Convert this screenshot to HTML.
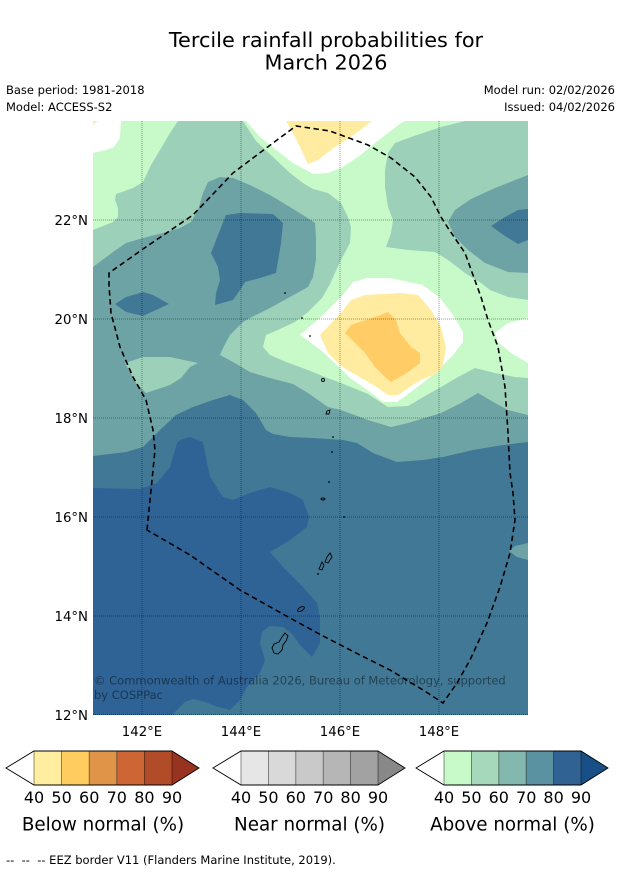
<!DOCTYPE html>
<html>
<head>
<meta charset="utf-8">
<style>
html,body{margin:0;padding:0;background:#fff;}
svg{display:block;}
text{font-family:"DejaVu Sans","Liberation Sans",sans-serif;}
</style>
</head>
<body>
<svg width="621" height="873" viewBox="0 0 621 873" xmlns="http://www.w3.org/2000/svg">
<rect x="0" y="0" width="621" height="873" fill="#fff"/>

<!-- Title -->
<text x="326" y="47" font-size="20.8" text-anchor="middle" fill="#000">Tercile rainfall probabilities for</text>
<text x="326" y="69.5" font-size="20.8" text-anchor="middle" fill="#000">March 2026</text>

<text x="6" y="94" font-size="11.5" fill="#000">Base period: 1981-2018</text>
<text x="6" y="111" font-size="11.5" fill="#000">Model: ACCESS-S2</text>
<text x="615" y="94" font-size="11.5" text-anchor="end" fill="#000">Model run: 02/02/2026</text>
<text x="615" y="111" font-size="11.5" text-anchor="end" fill="#000">Issued: 04/02/2026</text>

<defs>
<clipPath id="mapclip"><rect x="93" y="121" width="435" height="594"/></clipPath>
</defs>

<g clip-path="url(#mapclip)">
<!-- base mid green 50-60 -->
<rect x="93" y="121" width="435" height="594" fill="#9dd0b9"/>

<!-- light green A -->
<polygon fill="#c8fac9" points="93,121 178,121 170,133 160,150 151,165 143,182 133,188 116,194 115,200 118,208 118,217 113,222 93,230"/>
<!-- light green B -->
<polygon fill="#c8fac9" points="243,121 465,121 441,127 411,137 395,143 388,153 385,170 385,187 388,207 393,220 391,233 386,247 408,250 435,252 448,260 465,273 481,283 490,290 508,297 528,300 528,378 515,377 495,373 475,368 458,377 441,387 425,396 408,406 388,407 368,394 341,383 325,377 308,370 286,362 270,355 263,347 266,335 280,329 295,322 308,312 322,298 330,284 335,273 341,260 350,243 351,227 348,217 341,203 328,193 313,189 303,183 290,173 273,157 256,141"/>

<!-- white regions -->
<polygon fill="#ffffff" points="93,121 121,121 120,138 114,147 106,150 93,153"/>
<polygon fill="#ffffff" points="246,121 405,121 401,123 388,133 375,143 358,157 341,168 328,173 313,174 306,170 293,163 280,153 260,137"/>
<polygon fill="#ffffff" points="528,318 508,323 495,333 498,342 511,353 528,363"/>
<polygon fill="#ffffff" points="300,335 323,315 343,295 353,282 367,278 390,278 423,285 440,298 453,315 463,332 463,342 453,355 433,375 420,385 407,395 397,402 383,402 370,392 350,378 340,368 323,352 310,342"/>

<!-- yellow -->
<polygon fill="#ffeca0" points="93,121 98,121 93,125"/>
<polygon fill="#ffeca0" points="286,121 372,121 351,137 335,147 318,160 308,164 306,160 300,147 293,133"/>
<polygon fill="#ffeca0" points="320,335 341,313 351,300 365,295 401,293 418,295 431,310 441,327 446,347 443,365 438,373 421,380 408,388 398,395 388,395 378,388 368,382 351,372 341,366 328,353"/>
<!-- orange -->
<polygon fill="#ffcc66" points="345,333 351,325 375,317 388,312 396,320 400,333 411,347 420,353 420,363 408,372 398,378 391,382 385,377 375,367 365,353 355,343"/>

<!-- 60-70 -->
<polygon fill="#6ea3a6" points="93,267 113,252 126,243 143,238 163,233 180,228 191,222 198,210 203,193 208,182 220,177 233,178 250,185 270,195 290,207 306,217 315,223 316,237 316,260 313,277 308,287 290,297 270,308 250,318 243,322 230,335 223,348 220,355 233,362 250,372 270,378 293,384 308,393 328,407 341,410 368,420 391,427 408,423 441,413 461,403 478,393 495,403 508,410 528,415 528,715 93,715"/>
<polygon fill="#6ea3a6" points="528,175 495,188 471,199 455,210 448,222 455,237 468,250 485,263 508,272 528,273"/>

<!-- mid green patch left -->
<polygon fill="#9dd0b9" points="125,363 143,357 170,357 198,363 190,367 181,378 170,385 146,393 136,383"/>

<!-- 70-80 -->
<polygon fill="#407896" points="93,456 126,452 143,447 160,430 176,415 193,407 213,400 230,395 243,400 256,413 266,430 273,434 290,437 313,438 343,440 357,443 373,453 397,462 423,460 443,457 473,450 503,445 528,442 528,715 93,715"/>
<polygon fill="#407896" points="226,215 240,213 273,214 283,223 281,243 276,273 260,278 245,282 240,290 233,300 215,305 216,293 220,280 218,267 211,253 220,230"/>
<polygon fill="#407896" points="115,304 126,297 143,292 153,295 169,304 143,316 126,312"/>
<polygon fill="#407896" points="491,226 505,217 518,210 528,209 528,240 518,244 505,236"/>

<!-- 60-70 right edge patch -->
<polygon fill="#6ea3a6" points="528,543 515,546 509,551 517,557 528,560"/>

<!-- 80-90 -->
<polygon fill="#2f6395" points="93,488 140,489 157,483 170,467 177,443 180,440 190,437 203,442 205,453 210,477 223,497 233,500 250,493 270,487 290,493 303,500 309,517 307,527 290,540 270,552 283,567 303,587 317,603 320,617 320,643 312,657 300,645 292,634 283,627 270,626 262,632 260,643 265,660 260,673 247,687 240,700 230,710 215,706 205,702 193,699 185,702 172,715 93,715"/>

<!-- gridlines -->
<g stroke="#000" stroke-opacity="0.4" stroke-width="1" stroke-dasharray="1,1" fill="none">
<line x1="142" y1="121" x2="142" y2="715"/>
<line x1="241" y1="121" x2="241" y2="715"/>
<line x1="340" y1="121" x2="340" y2="715"/>
<line x1="439" y1="121" x2="439" y2="715"/>
<line x1="93" y1="220" x2="528" y2="220"/>
<line x1="93" y1="319" x2="528" y2="319"/>
<line x1="93" y1="418" x2="528" y2="418"/>
<line x1="93" y1="517" x2="528" y2="517"/>
<line x1="93" y1="616" x2="528" y2="616"/>
<line x1="93" y1="714.5" x2="528" y2="714.5"/>
</g>

<!-- EEZ border -->
<path d="M147,530 L152,480 L155,450 L153,430 L146,400 L133,377 L120,347 L111,313 L109,285 L109,273 L143,249 L193,215 L233,173 L273,143 L296,126 L330,131 L368,145 L391,158 L415,177 L431,197 L441,217 L448,228 L465,253 L481,297 L488,320 L498,347 L505,387 L508,433 L510,473 L513,493 L515,520 L510,553 L500,587 L487,623 L470,660 L457,683 L443,703 L423,690 L390,670 L360,655 L323,636 L290,618 L240,590 L190,555 Z" fill="none" stroke="#000" stroke-width="1.6" stroke-dasharray="5.5,3.5"/>

<!-- islands -->
<g fill="none" stroke="#000" stroke-width="0.9">
<path d="M285,633 L288,636 L286,641 L283,645 L282,650 L278,654 L274,653 L272,648 L274,644 L279,642 L282,637 Z"/>
<ellipse cx="301" cy="609" rx="3.8" ry="1.8" transform="rotate(-30 301 609)"/>
<path d="M330,553 L332,557 L328,563 L325,562 L327,557 Z"/>
<path d="M322,562 L324,565 L322,570 L319,569 Z"/>
<circle cx="323" cy="380" r="1.5"/>
<path d="M327,411 L330,410 L329,414 L326,414 Z"/>
<ellipse cx="323" cy="499" rx="2" ry="1"/>
</g>
<g fill="#000">
<circle cx="285" cy="293" r="0.9"/>
<circle cx="302" cy="318" r="0.9"/>
<circle cx="310" cy="336" r="0.9"/>
<circle cx="333" cy="437" r="0.9"/>
<circle cx="332" cy="452" r="0.9"/>
<circle cx="329" cy="482" r="0.9"/>
<circle cx="344" cy="517" r="0.9"/>
<circle cx="318" cy="574" r="0.9"/>
</g>

<!-- copyright -->
<text x="94" y="684.5" font-size="11.5" fill="#000" fill-opacity="0.45">© Commonwealth of Australia 2026, Bureau of Meteorology, supported</text>
<text x="94" y="699" font-size="11.5" fill="#000" fill-opacity="0.45">by COSPPac</text>
</g>

<!-- axis labels -->
<g font-size="13.3" fill="#000">
<text x="88" y="225" text-anchor="end">22°N</text>
<text x="88" y="324" text-anchor="end">20°N</text>
<text x="88" y="423" text-anchor="end">18°N</text>
<text x="88" y="522" text-anchor="end">16°N</text>
<text x="88" y="621" text-anchor="end">14°N</text>
<text x="88" y="720" text-anchor="end">12°N</text>
<text x="142" y="736" text-anchor="middle">142°E</text>
<text x="241" y="736" text-anchor="middle">144°E</text>
<text x="340" y="736" text-anchor="middle">146°E</text>
<text x="439" y="736" text-anchor="middle">148°E</text>
</g>

<!-- Colorbars -->
<!-- Below normal -->
<g>
<polygon points="6,768 34,751 34,785" fill="#ffffff"/>
<rect x="34" y="751" width="27.6" height="34" fill="#ffeda0"/>
<rect x="61.6" y="751" width="27.6" height="34" fill="#fecc5f"/>
<rect x="89.2" y="751" width="27.6" height="34" fill="#e09448"/>
<rect x="116.8" y="751" width="27.6" height="34" fill="#cd6535"/>
<rect x="144.4" y="751" width="27.6" height="34" fill="#b24b27"/>
<polygon points="172,751 199,768 172,785" fill="#98331f"/>
<g stroke="#000" stroke-opacity="0.55" stroke-width="0.8">
<line x1="34" y1="751" x2="34" y2="785"/><line x1="61.6" y1="751" x2="61.6" y2="785"/><line x1="89.2" y1="751" x2="89.2" y2="785"/><line x1="116.8" y1="751" x2="116.8" y2="785"/><line x1="144.4" y1="751" x2="144.4" y2="785"/><line x1="172" y1="751" x2="172" y2="785"/>
</g>
<polygon points="6,768 34,751 172,751 199,768 172,785 34,785" fill="none" stroke="#000" stroke-width="0.9"/>
</g>
<!-- Near normal -->
<g>
<polygon points="213,768 241,751 241,785" fill="#ffffff"/>
<rect x="241" y="751" width="27.4" height="34" fill="#e6e6e6"/>
<rect x="268.4" y="751" width="27.4" height="34" fill="#d9d9d9"/>
<rect x="295.8" y="751" width="27.4" height="34" fill="#c9c9c9"/>
<rect x="323.2" y="751" width="27.4" height="34" fill="#b6b6b6"/>
<rect x="350.6" y="751" width="27.4" height="34" fill="#a2a2a2"/>
<polygon points="378,751 405,768 378,785" fill="#888888"/>
<g stroke="#000" stroke-opacity="0.55" stroke-width="0.8">
<line x1="241" y1="751" x2="241" y2="785"/><line x1="268.4" y1="751" x2="268.4" y2="785"/><line x1="295.8" y1="751" x2="295.8" y2="785"/><line x1="323.2" y1="751" x2="323.2" y2="785"/><line x1="350.6" y1="751" x2="350.6" y2="785"/><line x1="378" y1="751" x2="378" y2="785"/>
</g>
<polygon points="213,768 241,751 378,751 405,768 378,785 241,785" fill="none" stroke="#000" stroke-width="0.9"/>
</g>
<!-- Above normal -->
<g>
<polygon points="416,768 444,751 444,785" fill="#ffffff"/>
<rect x="444" y="751" width="27.4" height="34" fill="#c8f9c9"/>
<rect x="471.4" y="751" width="27.4" height="34" fill="#a6d9bb"/>
<rect x="498.8" y="751" width="27.4" height="34" fill="#82b8ae"/>
<rect x="526.2" y="751" width="27.4" height="34" fill="#5a92a1"/>
<rect x="553.6" y="751" width="27.4" height="34" fill="#306394"/>
<polygon points="581,751 608,768 581,785" fill="#174f86"/>
<g stroke="#000" stroke-opacity="0.55" stroke-width="0.8">
<line x1="444" y1="751" x2="444" y2="785"/><line x1="471.4" y1="751" x2="471.4" y2="785"/><line x1="498.8" y1="751" x2="498.8" y2="785"/><line x1="526.2" y1="751" x2="526.2" y2="785"/><line x1="553.6" y1="751" x2="553.6" y2="785"/><line x1="581" y1="751" x2="581" y2="785"/>
</g>
<polygon points="416,768 444,751 581,751 608,768 581,785 444,785" fill="none" stroke="#000" stroke-width="0.9"/>
</g>

<!-- colorbar tick labels -->
<g font-size="16" fill="#000" text-anchor="middle">
<text x="34" y="803">40</text><text x="61.6" y="803">50</text><text x="89.2" y="803">60</text><text x="116.8" y="803">70</text><text x="144.4" y="803">80</text><text x="172" y="803">90</text>
<text x="241" y="803">40</text><text x="268.4" y="803">50</text><text x="295.8" y="803">60</text><text x="323.2" y="803">70</text><text x="350.6" y="803">80</text><text x="378" y="803">90</text>
<text x="444" y="803">40</text><text x="471.4" y="803">50</text><text x="498.8" y="803">60</text><text x="526.2" y="803">70</text><text x="553.6" y="803">80</text><text x="581" y="803">90</text>
</g>
<g font-size="18.3" fill="#000" text-anchor="middle">
<text x="103" y="830.5">Below normal (%)</text>
<text x="309.5" y="830.5">Near normal (%)</text>
<text x="512.5" y="830.5">Above normal (%)</text>
</g>

<text x="6" y="864" font-size="11.5" fill="#000" xml:space="preserve">--  --  -- EEZ border V11 (Flanders Marine Institute, 2019).</text>
</svg>
</body>
</html>
